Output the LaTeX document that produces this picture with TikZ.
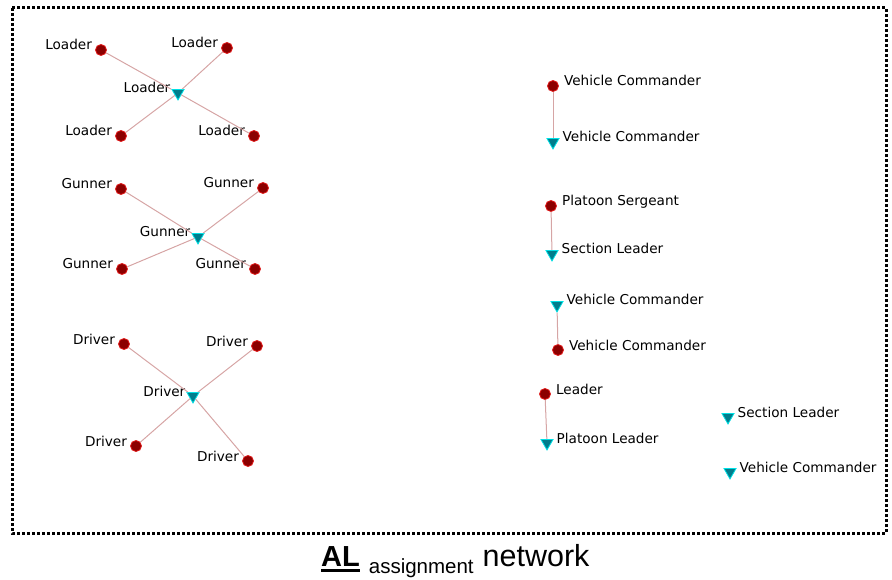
\documentclass[tikz,border=0pt]{standalone}
\usepackage{fontspec}
\setmainfont{Liberation Sans}
\newfontfamily\lblfont{DejaVu Sans}
\usetikzlibrary{shapes.geometric}

\definecolor{actorfill}{RGB}{140,0,0}
\definecolor{actoredge}{RGB}{225,25,25}
\definecolor{rolefill}{RGB}{0,125,140}
\definecolor{roleedge}{RGB}{0,225,230}
\definecolor{tiecol}{RGB}{214,165,165}

\newcommand\ulword[1]{\leavevmode\setbox0\hbox{#1}\rlap{\rule[-6pt]{\wd0}{2.6pt}}\box0}

\tikzset{
  agent/.style={circle, fill=actorfill, draw=actoredge, line width=0.8pt,
    minimum size=11pt, inner sep=0pt},
  task/.style={regular polygon, regular polygon sides=3, shape border rotate=180,
    fill=rolefill, draw=roleedge, line width=0.8pt, minimum size=14pt, inner sep=0pt},
  lbl/.style={font=\lblfont\fontsize{13.6}{15}\selectfont, text=black, inner sep=0pt},
  lleft/.style={label={[lbl, anchor=base east, xshift=-3pt]west:#1}},
  lright/.style={label={[lbl, anchor=base west, xshift=5pt]east:#1}},
  tie/.style={draw=tiecol, line width=1pt},
}

\begin{document}
\begin{tikzpicture}[x=1pt, y=-1pt]
  \useasboundingbox (0,0) rectangle (892,580);
  % frame
  \draw[line width=3pt, dash pattern=on 3pt off 2pt] (12,8) rectangle (886,533);

  % loaders
  \node[task, lleft=Loader] (ld0) at (178,93) {};
  \node[agent, lleft=Loader] (ld1) at (101,50) {};
  \node[agent, lleft=Loader] (ld2) at (227,48) {};
  \node[agent, lleft=Loader] (ld3) at (121,136) {};
  \node[agent, lleft=Loader] (ld4) at (254,136) {};
  \foreach \i in {1,...,4} \draw[tie] (ld0) -- (ld\i);

  % gunners
  \node[task, lleft=Gunner] (gn0) at (198,237) {};
  \node[agent, lleft=Gunner] (gn1) at (121,189) {};
  \node[agent, lleft=Gunner] (gn2) at (263,188) {};
  \node[agent, lleft=Gunner] (gn3) at (122,269) {};
  \node[agent, lleft=Gunner] (gn4) at (255,269) {};
  \foreach \i in {1,...,4} \draw[tie] (gn0) -- (gn\i);

  % drivers
  \node[task, lleft=Driver] (dr0) at (193,396) {};
  \node[agent, lleft=Driver] (dr1) at (124,344) {};
  \node[agent, lleft=Driver] (dr2) at (257,346) {};
  \node[agent, lleft=Driver] (dr3) at (136,446) {};
  \node[agent, lleft=Driver] (dr4) at (248,461) {};
  \foreach \i in {1,...,4} \draw[tie] (dr0) -- (dr\i);

  % dyads
  \node[agent, lright=Vehicle Commander] (vc1) at (553,86) {};
  \node[task, lright=Vehicle Commander] (vc2) at (553,142) {};
  \draw[tie] (vc1) -- (vc2);

  \node[agent, lright=Platoon Sergeant] (ps) at (551,206) {};
  \node[task, lright=Section Leader] (sl1) at (552,254) {};
  \draw[tie] (ps) -- (sl1);

  \node[task, lright=Vehicle Commander] (vc3) at (557,305) {};
  \node[agent, lright=Vehicle Commander] (vc4) at (558,350) {};
  \draw[tie] (vc3) -- (vc4);

  \node[agent, lright=Leader] (lead) at (545,394) {};
  \node[task, lright=Platoon Leader] (pl) at (547,443) {};
  \draw[tie] (lead) -- (pl);

  % isolates
  \node[task, lright=Section Leader] (sl2) at (728,417) {};
  \node[task, lright=Vehicle Commander] (vc5) at (730,472) {};

  % caption
  \node[anchor=base west, inner sep=0pt] (cap) at (321,566)
    {{\fontsize{29}{32}\selectfont\bfseries\ulword{AL}}\hspace{9pt}{\fontsize{20.5}{22}\selectfont\raisebox{-7pt}{assignment}}\hspace{9pt}{\fontsize{30.5}{33}\selectfont network}};
\end{tikzpicture}
\end{document}
